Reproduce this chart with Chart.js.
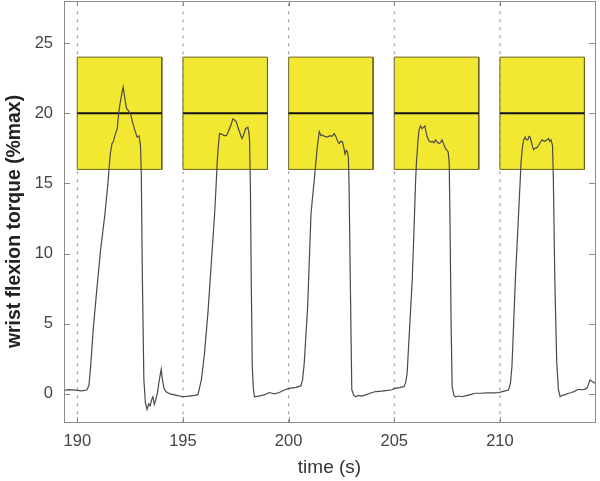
<!DOCTYPE html>
<html>
<head>
<meta charset="utf-8">
<script src="https://cdn.jsdelivr.net/npm/chart.js@4.4.1/dist/chart.umd.min.js"></script>
<style>
  html, body { margin: 0; padding: 0; background: #ffffff; }
  #wrap { width: 600px; height: 481px; position: relative; }
</style>
</head>
<body>
<div id="wrap"><canvas id="c"></canvas></div>
<script>
// ---- data ----
const timeS = [
  189.37, 189.6, 189.9, 190.2, 190.45, 190.55, 190.63, 190.75, 190.92, 191.1, 191.31, 191.46, 191.5, 191.56, 191.64, 191.7, 191.78, 191.89, 191.93, 192.01, 192.09, 192.17, 192.25, 192.33, 192.41, 192.52, 192.61, 192.72, 192.83, 192.92, 192.99,
  193.03, 193.08, 193.15, 193.22, 193.3, 193.38, 193.45, 193.52, 193.58, 193.64, 193.7, 193.79, 193.87, 193.97, 194.03, 194.1, 194.2, 194.4, 194.7, 195.0, 195.3, 195.55, 195.71,
  195.87, 196.02, 196.18, 196.34, 196.5, 196.58, 196.62, 196.68, 196.73, 196.85, 196.95, 197.05, 197.12, 197.2, 197.28, 197.36, 197.45, 197.52, 197.6, 197.67, 197.74, 197.8, 197.88, 197.96, 198.07, 198.12, 198.15,
  198.19, 198.23, 198.28, 198.33, 198.38, 198.58, 198.85, 199.09, 199.32, 199.56, 199.8, 200.03, 200.35, 200.58, 200.66, 200.74, 200.9, 201.06, 201.21,
  201.26, 201.35, 201.45, 201.53, 201.6, 201.7, 201.84, 201.95, 202.05, 202.16, 202.25, 202.32, 202.39, 202.47, 202.55, 202.62, 202.67, 202.73, 202.78, 202.83,
  202.86, 202.92, 202.99, 203.08, 203.18, 203.3, 203.45, 203.65, 203.85, 204.12, 204.4, 204.7, 204.9, 205.0, 205.25, 205.46, 205.54, 205.61, 205.73, 205.85, 205.93, 206.01,
  206.05, 206.12, 206.17, 206.24, 206.32, 206.38, 206.45, 206.5, 206.56, 206.64, 206.72, 206.8, 206.88, 206.95, 207.03, 207.11, 207.18, 207.26, 207.34, 207.42, 207.48, 207.55,
  207.6, 207.64, 207.69, 207.74, 207.82, 207.9, 208.05, 208.2, 208.37, 208.6, 208.84, 209.1, 209.4, 209.7, 209.94, 210.2, 210.41, 210.5, 210.57, 210.65, 210.73, 210.85, 210.96,
  211.0, 211.06, 211.12, 211.2, 211.26, 211.32, 211.38, 211.43, 211.5, 211.55, 211.59, 211.66, 211.75, 211.83, 211.9, 211.98, 212.05, 212.13, 212.22, 212.3, 212.36, 212.42, 212.49,
  212.53, 212.6, 212.69, 212.77, 212.85, 212.95, 213.1, 213.24, 213.4, 213.55, 213.71, 213.85, 214.03, 214.15, 214.26, 214.35, 214.5
];
const torque = [
  0.25, 0.3, 0.27, 0.22, 0.28, 0.6, 1.94, 4.55, 7.4, 10.25, 12.86, 15.2, 16.0, 17.1, 17.84, 17.95, 18.43, 18.9, 19.6, 20.57, 21.28, 21.87, 21.05, 20.33, 20.2, 19.97, 19.38, 18.8, 18.3, 18.4, 17.7,
  15.5, 8.1, 1.0, -0.6, -1.1, -0.7, -0.85, -0.4, -0.2, -0.75, -0.5, 0.07, 0.9, 1.75, 1.0, 0.4, 0.15, 0.0, -0.1, -0.2, -0.15, -0.1, -0.05,
  1.0, 2.9, 5.74, 9.3, 12.86, 15.2, 16.5, 17.8, 18.55, 18.5, 18.4, 18.4, 18.6, 18.9, 19.2, 19.6, 19.5, 19.4, 19.0, 18.7, 18.4, 18.2, 18.5, 18.9, 19.0, 18.6, 18.1,
  15.0, 8.4, 2.0, 0.4, -0.2, -0.15, -0.07, 0.1, 0.0, 0.1, 0.28, 0.4, 0.47, 0.57, 1.0, 2.2, 6.2, 12.86, 15.2,
  16.0, 17.5, 18.7, 18.4, 18.45, 18.35, 18.3, 18.4, 18.35, 18.55, 18.3, 18.0, 17.85, 18.0, 17.95, 17.5, 17.1, 17.35, 17.25, 16.8,
  15.0, 8.0, 0.3, -0.1, -0.2, -0.1, -0.15, -0.07, 0.05, 0.17, 0.2, 0.25, 0.3, 0.4, 0.45, 0.52, 0.8, 1.5, 4.8, 8.1, 11.5, 15.2,
  16.5, 18.0, 18.8, 19.1, 18.9, 19.0, 19.1, 18.7, 18.3, 18.05, 17.95, 18.0, 17.9, 18.1, 17.95, 17.85, 17.9, 18.1, 17.8, 17.5, 17.4, 17.25,
  16.5, 12.0, 5.0, 0.52, -0.1, -0.2, -0.15, -0.2, -0.14, -0.05, 0.05, 0.05, 0.08, 0.08, 0.1, 0.2, 0.28, 0.8, 1.95, 5.0, 8.1, 11.8, 15.2,
  16.5, 17.5, 18.1, 18.3, 18.1, 18.1, 18.35, 18.3, 17.9, 17.6, 17.4, 17.5, 17.55, 17.7, 17.9, 18.1, 18.05, 18.0, 18.1, 18.2, 18.0, 18.1, 17.7,
  15.2, 8.0, 2.2, 0.3, -0.2, -0.1, -0.05, 0.05, 0.1, 0.2, 0.33, 0.3, 0.33, 0.5, 1.0, 0.9, 0.76
];
const boxStarts = [190, 195, 200, 205, 210];
const boxEnds   = [194, 199, 204, 209, 214];
const boxLow = 16;
const boxHigh = 24;
const targetLevel = 20;
const markerTimes = [190, 195, 200, 205, 210];
const xTickValues = [190, 195, 200, 205, 210];
const yTickValues = [0, 5, 10, 15, 20, 25];
const xRange = [189.37, 214.5];
const yRange = [-2, 28];
const xTitle = 'time (s)';
const yTitle = 'wrist flexion torque (%max)';

// ---- build datasets ----
const datasets = [];
datasets.push({
  label: 'torque',
  data: timeS.map((t, i) => ({ x: t, y: torque[i] })),
  borderColor: '#4a4a4a',
  borderWidth: 1.2,
  pointRadius: 0,
  tension: 0,
  fill: false,
  order: 0
});
boxStarts.forEach((s, i) => {
  const e = boxEnds[i];
  datasets.push({
    label: 'target' + i,
    data: [{ x: s, y: targetLevel }, { x: e, y: targetLevel }],
    borderColor: '#111111',
    borderWidth: 2,
    pointRadius: 0,
    fill: false,
    order: 1
  });
  datasets.push({
    label: 'box' + i,
    data: [{ x: s, y: boxLow }, { x: s, y: boxHigh }, { x: e, y: boxHigh }, { x: e, y: boxLow }, { x: s, y: boxLow }],
    borderColor: '#6b6420',
    borderWidth: 1,
    backgroundColor: '#f2e831',
    pointRadius: 0,
    fill: 'shape',
    order: 3
  });
});
markerTimes.forEach((m, i) => {
  datasets.push({
    label: 'marker' + i,
    data: [{ x: m, y: yRange[0] }, { x: m, y: yRange[1] }],
    borderColor: '#858585',
    borderWidth: 1,
    borderDash: [2.5, 5.5],
    pointRadius: 0,
    fill: false,
    order: 2
  });
});

const FONT = "'Liberation Sans', Arial, Helvetica, sans-serif";

const framePlugin = {
  id: 'frame',
  afterDraw(chart) {
    const ctx = chart.ctx;
    const a = chart.chartArea;
    const xs = chart.scales.x, ys = chart.scales.y;
    ctx.save();
    ctx.strokeStyle = '#8c8c8c';
    ctx.lineWidth = 1;
    ctx.beginPath();
    ys.ticks.forEach(t => {
      const p = Math.round(ys.getPixelForValue(t.value)) + 0.5;
      ctx.moveTo(a.left, p); ctx.lineTo(a.left + 6, p);
      ctx.moveTo(a.right, p); ctx.lineTo(a.right - 6, p);
    });
    xs.ticks.forEach(t => {
      const p = Math.round(xs.getPixelForValue(t.value)) + 0.5;
      ctx.moveTo(p, a.bottom); ctx.lineTo(p, a.bottom - 5);
      ctx.moveTo(p, a.top); ctx.lineTo(p, a.top + 5);
    });
    ctx.stroke();
    ctx.strokeRect(Math.round(a.left) + 0.5, Math.round(a.top) + 0.5,
                   Math.round(a.right - a.left), Math.round(a.bottom - a.top));
    // y-axis title, centred on the reference's position
    ctx.translate(14.5, (a.top + a.bottom) / 2 + 10);
    ctx.rotate(-Math.PI / 2);
    ctx.font = 'bold 19.4px ' + FONT;
    ctx.fillStyle = '#222';
    ctx.textAlign = 'center';
    ctx.textBaseline = 'middle';
    ctx.fillText(yTitle, 0, 0);
    ctx.restore();
  }
};

new Chart(document.getElementById('c'), {
  type: 'line',
  data: { datasets },
  plugins: [framePlugin],
  options: {
    responsive: true,
    maintainAspectRatio: false,
    animation: false,
    events: [],
    layout: { padding: { top: 1, right: 5, left: 0, bottom: 0 } },
    plugins: { legend: { display: false }, tooltip: { enabled: false } },
    scales: {
      x: {
        type: 'linear',
        min: xRange[0], max: xRange[1],
        afterBuildTicks: s => { s.ticks = xTickValues.map(v => ({ value: v })); },
        afterFit: s => { s.height = 59; s.paddingLeft = 0; s.paddingRight = 0; },
        grid: { display: false, drawTicks: false },
        border: { display: false },
        ticks: { font: { family: FONT, size: 16.5 }, color: '#444', padding: 10, maxRotation: 0 },
        title: { display: true, text: xTitle, font: { family: FONT, size: 19 }, color: '#333', padding: { top: 2, bottom: 2 } }
      },
      y: {
        type: 'linear',
        min: yRange[0], max: yRange[1],
        afterBuildTicks: s => { s.ticks = yTickValues.map(v => ({ value: v })); },
        afterFit: s => { s.width = 64; s.paddingTop = 0; s.paddingBottom = 0; },
        grid: { display: false, drawTicks: false },
        border: { display: false },
        ticks: { font: { family: FONT, size: 16.5 }, color: '#444', padding: 11 },
        title: { display: false }
      }
    }
  }
});
</script>
</body>
</html>
